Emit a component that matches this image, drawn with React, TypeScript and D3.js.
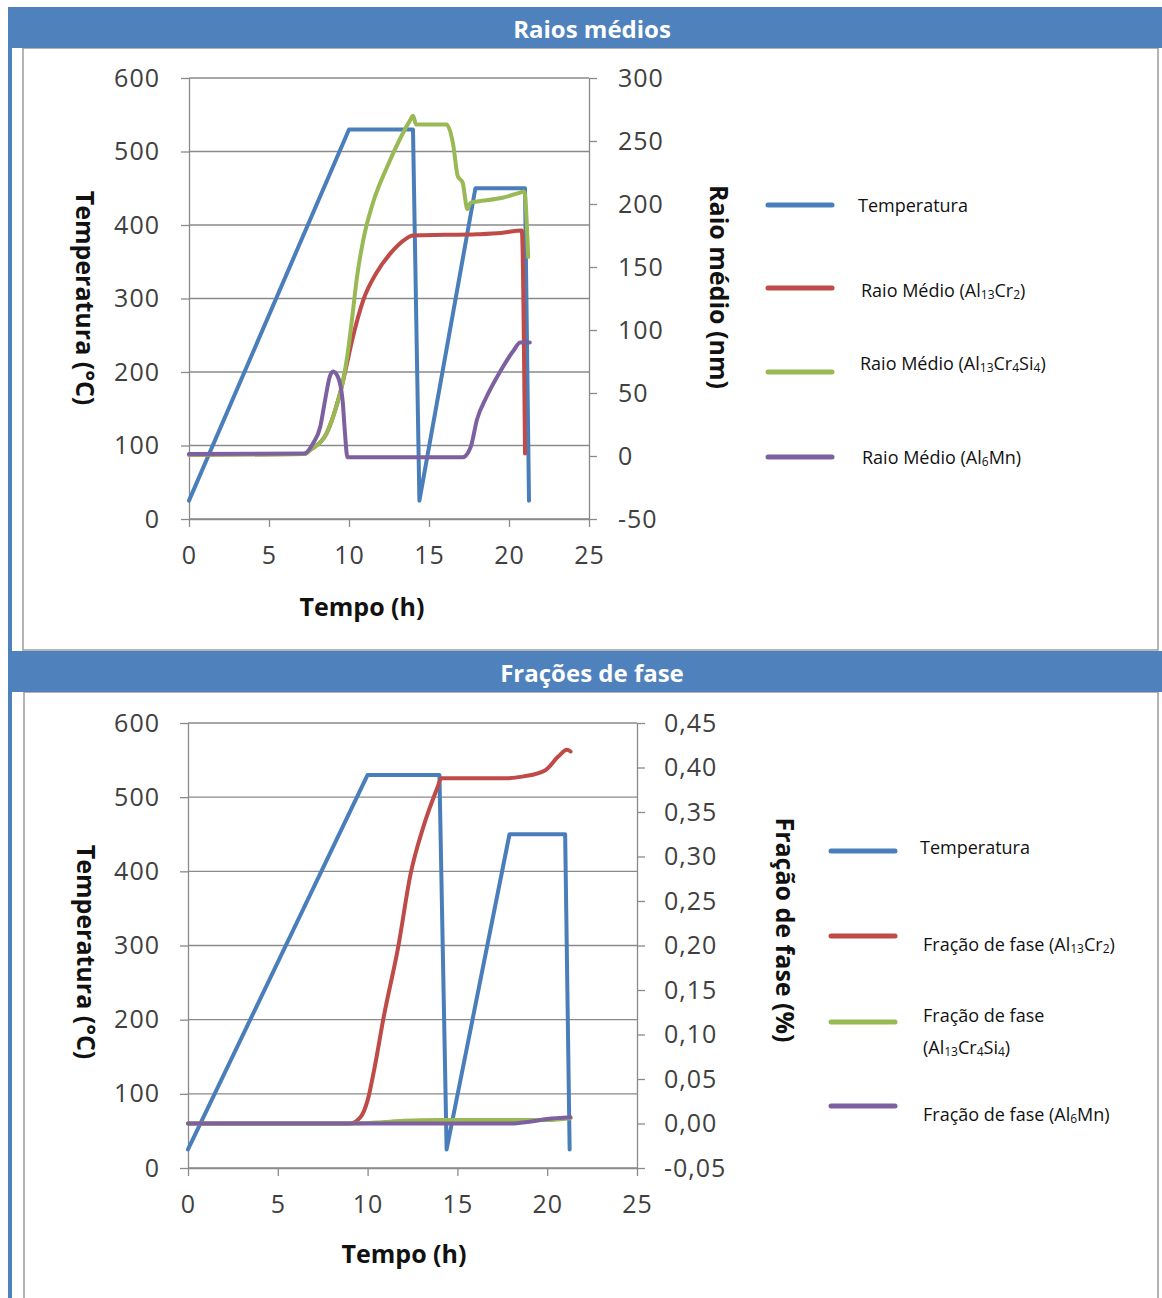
import React, { useEffect, useRef } from 'react';
import * as d3 from 'd3';

// Thermal cycle shared by both charts (time in h, temperature in °C)
const tempTime = [0, 10, 14, 14.4, 17.9, 21, 21.25];
const tempValues = [25, 530, 530, 25, 450, 450, 25];

// Chart 1: mean radius (nm)
const crTime = [0, 7.2, 7.6, 8.6, 9.2, 9.6, 9.9, 10.2, 10.9, 11.7, 12.6, 13.4, 14, 16, 18, 19.5, 20.8, 21.0];
const crRadius = [1, 1.5, 5, 18, 39, 58, 75, 92, 124, 145, 161, 171, 175, 175.5, 176, 177, 179, 2];

const crSiTime = [0, 7.2, 7.6, 8.6, 9.2, 9.6, 9.9, 10.2, 10.5, 10.9, 11.5, 12.4, 13.2, 13.8, 14.0, 14.2, 16.1, 16.5, 16.8, 17.1, 17.4, 17.6, 18.0, 19.6, 20.7, 20.95, 21.2];
const crSiRadius = [1, 1.5, 5, 18, 39, 58, 80, 110, 142, 172, 201, 230, 252, 266, 270, 263, 263, 248, 222, 217, 196, 201, 202, 205, 209, 210, 158];

const mnTime = [0, 7.2, 7.75, 8.2, 8.5, 8.8, 9.0, 9.3, 9.6, 9.75, 9.9, 17.1, 17.6, 18.0, 18.6, 19.4, 20.3, 20.7, 21.3];
const mnRadius = [1.5, 2, 10, 23, 44, 63, 67, 63, 44, 18, -1, -1, 7, 29, 47, 66, 84, 90, 90];

// Chart 2: phase fraction
const crFracTime = [0, 9.0, 9.6, 10.0, 10.4, 10.9, 11.7, 12.4, 13.1, 13.9, 14.1, 17.8, 18.7, 19.9, 20.6, 21.1, 21.3];
const crFrac = [0, 0, 0.007, 0.026, 0.064, 0.12, 0.198, 0.281, 0.333, 0.378, 0.388, 0.388, 0.39, 0.397, 0.412, 0.42, 0.418];

const crSiFracTime = [0, 9, 10.5, 12, 14, 17, 20, 21.3];
const crSiFrac = [0, 0, 0.001, 0.003, 0.004, 0.004, 0.004, 0.006];

const mnFracTime = [0, 18, 19, 20, 21.3];
const mnFrac = [0, 0, 0.002, 0.005, 0.007];

// Ticks
const timeTicks = [0, 5, 10, 15, 20, 25];
const tempTicks = [0, 100, 200, 300, 400, 500, 600];
const radiusTicks = [-50, 0, 50, 100, 150, 200, 250, 300];
const fracTicks = [-0.05, 0, 0.05, 0.1, 0.15, 0.2, 0.25, 0.3, 0.35, 0.4, 0.45];

const HEAD = '#4F81BD';
const GRID = '#8a8a8a';
const C_TEMP = '#4A7EBB';
const C_CR = '#BE4B48';
const C_CRSI = '#98B954';
const C_MN = '#7D60A0';
const FONT = '"Open Sans", sans-serif';

const zip = (t, v) => t.map((d, i) => [d, v[i]]);

// writes "Al_{13}Cr_{2}" style labels with subscripts
function richText(sel, label) {
    const parts = label.split(/(_\{[^}]*\})/).filter(s => s.length);
    let down = false;
    parts.forEach(p => {
        const m = p.match(/^_\{(.*)\}$/);
        if (m) {
            sel.append('tspan').attr('font-size', 12).attr('dy', down ? 0 : 4).text(m[1]);
            down = true;
        } else {
            sel.append('tspan').attr('dy', down ? -4 : 0).text(p);
            down = false;
        }
    });
}

function drawChart(svg, c) {
    const g = svg.append('g');
    const [x0, x1] = c.x.range();
    const [yb] = c.yL.range();

    // horizontal gridlines (left axis)
    g.append('g').selectAll('line').data(tempTicks).join('line')
        .attr('x1', x0).attr('x2', x1)
        .attr('y1', d => c.yL(d)).attr('y2', d => c.yL(d))
        .attr('stroke', GRID).attr('stroke-width', 1.3);

    const styleAxis = (a) => {
        a.attr('font-family', FONT).attr('font-size', 25);
        a.select('.domain').attr('stroke', GRID).attr('stroke-width', 1.3);
        a.selectAll('.tick line').attr('stroke', GRID).attr('stroke-width', 1.3);
        a.selectAll('.tick text').attr('fill', '#404040').attr('letter-spacing', 1);
    };

    g.append('g').attr('transform', `translate(${x0},0)`)
        .call(d3.axisLeft(c.yL).tickValues(tempTicks).tickSize(8).tickSizeOuter(0).tickPadding(c.leftPad))
        .call(styleAxis);

    g.append('g').attr('transform', `translate(${x1},0)`)
        .call(d3.axisRight(c.yR).tickValues(c.rightTicks).tickSize(8).tickSizeOuter(0).tickPadding(c.rightPad).tickFormat(c.rightFormat))
        .call(styleAxis);

    g.append('g').attr('transform', `translate(0,${yb})`)
        .call(d3.axisBottom(c.x).tickValues(timeTicks).tickSize(8).tickSizeOuter(0).tickPadding(19).tickFormat(d => String(d)))
        .call(styleAxis);

    // series
    const line = d3.line().x(d => c.x(d[0]));
    c.series.forEach(s => {
        const y = s.axis === 'left' ? c.yL : c.yR;
        g.append('path')
            .datum(s.data)
            .attr('fill', 'none')
            .attr('stroke', s.color)
            .attr('stroke-width', 4)
            .attr('stroke-linejoin', 'round')
            .attr('stroke-linecap', 'round')
            .attr('d', line.y(d => y(d[1])).curve(s.smooth ? d3.curveMonotoneX : d3.curveLinear)(s.data));
    });

    // axis titles
    const title = (txt, x, y, rot) => g.append('text')
        .attr('transform', `translate(${x},${y}) rotate(${rot})`)
        .attr('text-anchor', 'middle').attr('dominant-baseline', 'central')
        .attr('font-family', FONT).attr('font-weight', 700).attr('font-size', 25)
        .attr('fill', '#111').text(txt);
    title('Temperatura (°C)', c.leftTitle[0], c.leftTitle[1], 90);
    title(c.rightTitleText, c.rightTitle[0], c.rightTitle[1], 90);
    title('Tempo (h)', c.bottomTitle[0], c.bottomTitle[1], 0);

    // legend
    c.legend.forEach(item => {
        g.append('line')
            .attr('x1', c.legendX).attr('x2', c.legendX + 64)
            .attr('y1', item.y).attr('y2', item.y)
            .attr('stroke', item.color).attr('stroke-width', 5).attr('stroke-linecap', 'round');
        item.lines.forEach((l, i) => {
            const t = g.append('text')
                .attr('x', item.tx).attr('y', item.ty + i * 32)
                .attr('dominant-baseline', 'central')
                .attr('font-family', FONT).attr('font-size', 18).attr('fill', '#111');
            richText(t, l);
        });
    });
}

const App = () => {
    const svgRef = useRef();

    useEffect(() => {
        const svg = d3.select(svgRef.current);
        svg.selectAll('*').remove();

        // frame: header bars, left strip, panels
        svg.append('rect').attr('x', 8).attr('y', 48).attr('width', 4).attr('height', 1250).attr('fill', HEAD);
        svg.append('rect').attr('x', 23).attr('y', 48).attr('width', 1135).attr('height', 602)
            .attr('fill', 'white').attr('stroke', '#9c9c9c').attr('stroke-width', 1.5);
        svg.append('rect').attr('x', 24).attr('y', 692).attr('width', 1134).attr('height', 640)
            .attr('fill', 'white').attr('stroke', '#9c9c9c').attr('stroke-width', 1.5);

        [['Raios médios', 7], ['Frações de fase', 651]].forEach(([txt, y]) => {
            svg.append('rect').attr('x', 8).attr('y', y).attr('width', 1154).attr('height', 41).attr('fill', HEAD);
            svg.append('text').attr('x', 592).attr('y', y + 21)
                .attr('text-anchor', 'middle').attr('dominant-baseline', 'central')
                .attr('font-family', FONT).attr('font-weight', 700).attr('font-size', 24)
                .attr('fill', 'white').text(txt);
        });

        // chart 1: mean radius
        drawChart(svg, {
            x: d3.scaleLinear().domain([0, 25]).range([189, 589]),
            yL: d3.scaleLinear().domain([0, 600]).range([519, 78]),
            yR: d3.scaleLinear().domain([-50, 300]).range([519, 78]),
            rightTicks: radiusTicks,
            rightFormat: d => String(d),
            leftPad: 21, rightPad: 21,
            series: [
                { data: zip(tempTime, tempValues), color: C_TEMP, axis: 'left', smooth: false },
                { data: zip(crTime, crRadius), color: C_CR, axis: 'right', smooth: true },
                { data: zip(crSiTime, crSiRadius), color: C_CRSI, axis: 'right', smooth: true },
                { data: zip(mnTime, mnRadius), color: C_MN, axis: 'right', smooth: true },
            ],
            leftTitle: [86, 298], rightTitle: [720, 287], bottomTitle: [362, 606],
            rightTitleText: 'Raio médio (nm)',
            legendX: 768,
            legend: [
                { y: 205, color: C_TEMP, tx: 858, ty: 205, lines: ['Temperatura'] },
                { y: 288, color: C_CR, tx: 861, ty: 290, lines: ['Raio Médio (Al_{13}Cr_{2})'] },
                { y: 372, color: C_CRSI, tx: 860, ty: 363, lines: ['Raio Médio (Al_{13}Cr_{4}Si_{4})'] },
                { y: 457, color: C_MN, tx: 862, ty: 457, lines: ['Raio Médio (Al_{6}Mn)'] },
            ],
        });

        // chart 2: phase fraction
        drawChart(svg, {
            x: d3.scaleLinear().domain([0, 25]).range([188, 637]),
            yL: d3.scaleLinear().domain([0, 600]).range([1168, 723]),
            yR: d3.scaleLinear().domain([-0.05, 0.45]).range([1168, 723]),
            rightTicks: fracTicks,
            rightFormat: d => d.toFixed(2).replace('.', ','),
            leftPad: 20, rightPad: 19,
            series: [
                { data: zip(tempTime, tempValues), color: C_TEMP, axis: 'left', smooth: false },
                { data: zip(crFracTime, crFrac), color: C_CR, axis: 'right', smooth: true },
                { data: zip(crSiFracTime, crSiFrac), color: C_CRSI, axis: 'right', smooth: true },
                { data: zip(mnFracTime, mnFrac), color: C_MN, axis: 'right', smooth: true },
            ],
            leftTitle: [87, 952], rightTitle: [786, 930], bottomTitle: [404, 1253],
            rightTitleText: 'Fração de fase (%)',
            legendX: 831,
            legend: [
                { y: 851, color: C_TEMP, tx: 920, ty: 847, lines: ['Temperatura'] },
                { y: 936, color: C_CR, tx: 923, ty: 944, lines: ['Fração de fase (Al_{13}Cr_{2})'] },
                { y: 1022, color: C_CRSI, tx: 923, ty: 1015, lines: ['Fração de fase', '(Al_{13}Cr_{4}Si_{4})'] },
                { y: 1106, color: C_MN, tx: 923, ty: 1114, lines: ['Fração de fase (Al_{6}Mn)'] },
            ],
        });
    }, []);

    return (
        <svg ref={svgRef} width={1162} height={1298}
            style={{ position: 'absolute', left: 0, top: 0, background: 'white' }} />
    );
};

export default App;
